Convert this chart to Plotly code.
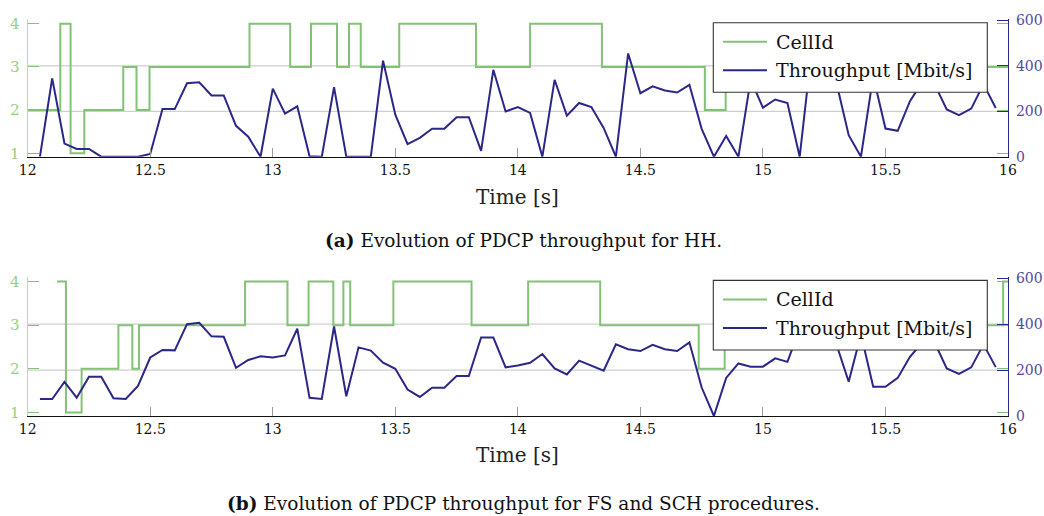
import plotly.graph_objects as go

# ---- data -------------------------------------------------------------
# throughput samples every 50 ms, from 12.05 s to 15.95 s
t_start, t_step, n_samples = 12.05, 0.05, 79
times = [round(t_start + t_step * i, 2) for i in range(n_samples)]

# (a) HH: PDCP throughput [Mbit/s]
thr_hh = [0, 345, 58, 34, 34, 0, 0, 0, 0, 12,
          210, 210, 324, 328, 270, 270, 136, 88, 0, 300,
          190, 222, 2, 0, 307, 0, 0, 0, 423, 185,
          55, 83, 123, 123, 174, 174, 26, 383, 199, 219,
          193, 0, 339, 181, 237, 219, 127, 0, 455, 280,
          310, 292, 283, 317, 123, 0, 91, 0, 340, 216,
          252, 237, 0, 480, 430, 325, 95, 0, 355, 124,
          114, 245, 330, 320, 208, 183, 212, 320, 215]

# (a) HH: serving cell id (step changes)
cell_t_hh = [12.0, 12.133, 12.175, 12.231, 12.39, 12.444, 12.497, 12.905, 13.071, 13.156,
             13.262, 13.311, 13.359, 13.516, 13.829, 14.050, 14.343, 14.763, 14.848, 16.0]
cell_hh = [2, 4, 1, 2, 3, 2, 3, 4, 3, 4,
           3, 4, 3, 4, 3, 4, 3, 2, 3, 3]

# (b) FS and SCH: PDCP throughput [Mbit/s]
thr_fs = [74, 74, 149, 80, 171, 171, 77, 74, 131, 255,
          288, 286, 400, 406, 347, 345, 210, 244, 260, 255,
          264, 380, 79, 74, 390, 86, 299, 285, 232, 206,
          115, 83, 123, 123, 174, 174, 342, 342, 212, 220,
          232, 270, 207, 181, 241, 220, 197, 312, 291, 283,
          310, 291, 283, 321, 124, 0, 166, 229, 215, 215,
          251, 236, 380, 330, 400, 312, 149, 356, 127, 127,
          166, 258, 320, 321, 207, 183, 212, 312, 213]

# (b) FS and SCH: serving cell id (step changes)
cell_t_fs = [12.12, 12.156, 12.220, 12.370, 12.427, 12.454, 12.887, 13.060, 13.146, 13.247,
             13.288, 13.316, 13.492, 13.811, 14.042, 14.336, 14.738, 14.844, 15.98, 16.0]
cell_fs = [4, 1, 2, 3, 2, 3, 4, 3, 4, 3,
           4, 3, 4, 3, 4, 3, 2, 3, 4, 4]

x_ticks = [12, 12.5, 13, 13.5, 14, 14.5, 15, 15.5, 16]
x_tick_text = ["12", "12.5", "13", "13.5", "14", "14.5", "15", "15.5", "16"]
cell_ticks = [1, 2, 3, 4]
thr_ticks = [0, 200, 400, 600]
captions = ["<b>(a)</b> Evolution of PDCP throughput for HH.",
            "<b>(b)</b> Evolution of PDCP throughput for FS and SCH procedures."]

# ---- style ------------------------------------------------------------
W, H = 1044, 516
GREEN = "#82c274"
GREEN_TXT = "#95cf88"
NAVY = "#2b2788"
NAVY_TXT = "#4f4a9e"
SERIF = "DejaVu Serif"


def px(x):
    return x / W


def py(y):
    return 1 - y / H


fig = go.Figure()

panels = [
    dict(x="x", yc="y", yt="y2", xt="x3", top=19.0, bot=156.7,
         cell_t=cell_t_hh, cell=cell_hh, thr=thr_hh, title_y=197, cap_y=241,
         caption=captions[0]),
    dict(x="x2", yc="y3", yt="y4", xt="x4", top=276.7, bot=416.0,
         cell_t=cell_t_fs, cell=cell_fs, thr=thr_fs, title_y=455, cap_y=503,
         caption=captions[1]),
]

x_left, x_right = 27.7, 1008.0
cell_range = [0.92, 4.11]
thr_range = [0, 607]

shapes = []
annotations = []
layout_axes = {}


def axname(a):
    return a[0] + "axis" + a[1:]


for p in panels:
    fig.add_trace(go.Scatter(x=p["cell_t"], y=p["cell"], mode="lines", line_shape="hv",
                             line=dict(color=GREEN, width=2), name="CellId",
                             xaxis=p["x"], yaxis=p["yc"], showlegend=False))
    fig.add_trace(go.Scatter(x=times, y=p["thr"], mode="lines",
                             line=dict(color=NAVY, width=2), name="Throughput [Mbit/s]",
                             xaxis=p["x"], yaxis=p["yt"], showlegend=False))

    dom_y = [py(p["bot"]), py(p["top"])]
    layout_axes[axname(p["x"])] = dict(
        domain=[px(x_left), px(x_right)], anchor=p["yc"], range=[12, 16], automargin=False,
        tickvals=x_ticks, ticktext=x_tick_text, ticks="inside", ticklen=9,
        tickcolor="#9a9a9a", tickwidth=1, showline=True, linecolor="#111", linewidth=1.3,
        showgrid=False, zeroline=False,
        tickfont=dict(family=SERIF, size=14, color="#111"))
    layout_axes[axname(p["xt"])] = dict(
        overlaying=p["x"], anchor=p["yc"], side="top", range=[12, 16], automargin=False,
        tickvals=x_ticks, ticks="inside", ticklen=9, tickcolor="#9a9a9a",
        showticklabels=False, showline=True, linecolor="#8a8a8a", linewidth=1.3,
        showgrid=False, zeroline=False)
    layout_axes[axname(p["yc"])] = dict(
        domain=dom_y, anchor=p["x"], range=cell_range, tickvals=cell_ticks, automargin=False,
        ticks="inside", ticklen=11, tickcolor=GREEN, tickwidth=1.3, mirror="ticks",
        showline=True, linecolor="#b9dcb0", linewidth=1.3, showgrid=False, zeroline=False,
        ticklabelstandoff=4,
        tickfont=dict(family=SERIF, size=15, color=GREEN_TXT))
    layout_axes[axname(p["yt"])] = dict(
        overlaying=p["yc"], anchor=p["x"], side="right", range=thr_range, automargin=False,
        tickvals=thr_ticks, ticks="inside", ticklen=11, tickcolor=NAVY, tickwidth=1.3,
        showline=True, linecolor=NAVY, linewidth=1.3, showgrid=False, zeroline=False,
        ticklabelstandoff=4,
        tickfont=dict(family=SERIF, size=14, color=NAVY_TXT))

    # horizontal grid at 200 / 400 Mbit/s
    for g in thr_ticks[1:3]:
        shapes.append(dict(type="line", xref="paper", yref=p["yt"], x0=px(x_left), x1=px(x_right),
                           y0=g, y1=g, line=dict(color="#cfcfcf", width=1.2), layer="below"))

    # legend box
    lt = p["top"] + 3.7
    shapes.append(dict(type="rect", xref="paper", yref="paper",
                       x0=px(713.3), x1=px(987.3), y0=py(lt + 69.6), y1=py(lt),
                       fillcolor="white", line=dict(color="#333", width=1.1), layer="above"))
    for k, (col, label) in enumerate([(GREEN, "CellId"), (NAVY, "Throughput [Mbit/s]")]):
        yy = lt + 19 + k * 28.5
        shapes.append(dict(type="line", xref="paper", yref="paper", x0=px(723), x1=px(767),
                           y0=py(yy), y1=py(yy), line=dict(color=col, width=2), layer="above"))
        annotations.append(dict(x=px(774), y=py(yy), xref="paper", yref="paper",
                                text=label, showarrow=False, xanchor="left", yanchor="middle",
                                font=dict(family=SERIF, size=19, color="#111")))

    annotations.append(dict(x=px(517), y=py(p["title_y"]), xref="paper", yref="paper",
                            text="Time [s]", showarrow=False, xanchor="center", yanchor="middle",
                            font=dict(family=SERIF, size=20, color="#222")))
    annotations.append(dict(x=px(523), y=py(p["cap_y"]), xref="paper", yref="paper",
                            text=p["caption"], showarrow=False, xanchor="center", yanchor="middle",
                            font=dict(family=SERIF, size=18.5, color="#111")))

fig.update_layout(
    width=W, height=H, margin=dict(l=0, r=0, t=0, b=0, autoexpand=False),
    paper_bgcolor="white", plot_bgcolor="white", showlegend=False,
    shapes=shapes, annotations=annotations, **layout_axes)

fig.write_html("out.html")
